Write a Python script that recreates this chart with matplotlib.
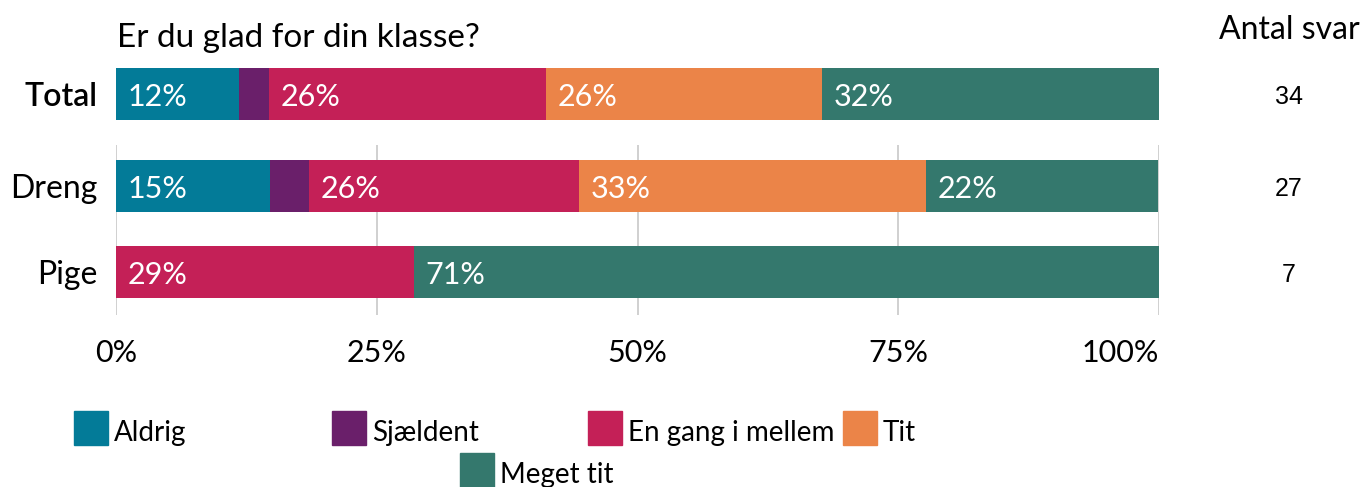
import matplotlib.pyplot as plt
from matplotlib.patches import Rectangle
from matplotlib.transforms import blended_transform_factory

plt.rcParams['font.family'] = ['Lato', 'DejaVu Sans']

categories = ["Aldrig", "Sjældent", "En gang i mellem", "Tit", "Meget tit"]
colors = ["#037B98", "#6A1F6A", "#C42057", "#EB8448", "#34786D"]

groups = ["Total", "Dreng", "Pige"]
total_pct = [11.8, 2.9, 26.5, 26.5, 32.4]
dreng_pct = [14.8, 3.7, 25.9, 33.3, 22.2]
pige_pct = [0.0, 0.0, 28.6, 0.0, 71.4]
antal_svar = [34, 27, 7]

W, H = 1362, 487
fig = plt.figure(figsize=(W / 100, H / 100), dpi=100)


def px_axes(x0, y0, x1, y1):
    # pixel box (top-left origin) -> figure axes
    return fig.add_axes([x0 / W, 1 - y1 / H, (x1 - x0) / W, (y1 - y0) / H])


def draw_bar(ax, y, values, height):
    left = 0
    for val, col in zip(values, colors):
        if val > 0:
            ax.barh(y, val, left=left, height=height, color=col, zorder=2)
            if val >= 5:
                ax.text(left + 1.1, y, f"{round(val)}%", color="white",
                        fontsize=22, va="center_baseline", ha="left", zorder=3)
        left += val


# Total panel
ax_t = px_axes(116, 68, 1159, 120)
draw_bar(ax_t, 0, total_pct, 1.0)
ax_t.set_xlim(0, 100)
ax_t.set_ylim(-0.5, 0.5)
ax_t.set_yticks([0])
ax_t.set_yticklabels(["Total"], fontsize=23, fontweight="semibold")
ax_t.set_xticks([])
ax_t.tick_params(axis="y", length=0, pad=13)
for s in ax_t.spines.values():
    s.set_visible(False)

# Dreng / Pige panel
ax = px_axes(116, 145, 1159, 315)
draw_bar(ax, 0, dreng_pct, 0.605)
draw_bar(ax, 1, pige_pct, 0.605)
ax.set_xlim(0, 100)
ax.set_ylim(1.5, -0.477)
ax.set_yticks([0, 1])
ax.set_yticklabels(groups[1:], fontsize=23)
ax.set_xticks([0, 25, 50, 75, 100])
ax.set_xticklabels(["0%", "25%", "50%", "75%", "100%"], fontsize=22)
ax.get_xticklabels()[-1].set_ha("right")
ax.tick_params(axis="y", length=0, pad=13)
ax.tick_params(axis="x", length=0, pad=17)
ax.grid(axis="x", color="#C8C8C8", linewidth=1.2, zorder=0)
ax.set_axisbelow(True)
for s in ax.spines.values():
    s.set_visible(False)

# title and counts column
fig.text(117 / W, 1 - 47 / H, "Er du glad for din klasse?", fontsize=24,
         ha="left", va="baseline")
fig.text(1289 / W, 1 - 39 / H, "Antal svar", fontsize=23, ha="center", va="baseline")

tr_t = blended_transform_factory(fig.transFigure, ax_t.transData)
ax_t.text(1289 / W, 0, str(antal_svar[0]), transform=tr_t, fontsize=18,
          ha="center", va="center_baseline", family="Liberation Sans", clip_on=False)
tr_b = blended_transform_factory(fig.transFigure, ax.transData)
for i, n in enumerate(antal_svar[1:]):
    ax.text(1289 / W, i, str(n), transform=tr_b, fontsize=18,
            ha="center", va="center_baseline", family="Liberation Sans", clip_on=False)

# legend
legend_pos = [(74, 411), (332, 411), (588, 411), (843, 411), (460, 453)]
for (x, y), lab, col in zip(legend_pos, categories, colors):
    fig.patches.append(Rectangle((x / W, 1 - (y + 34) / H), 34 / W, 34 / H,
                                 transform=fig.transFigure, color=col))
    fig.text((x + 40) / W, 1 - (y + 30) / H, lab, fontsize=20,
             ha="left", va="baseline")

fig.savefig("out.png", dpi=100)
